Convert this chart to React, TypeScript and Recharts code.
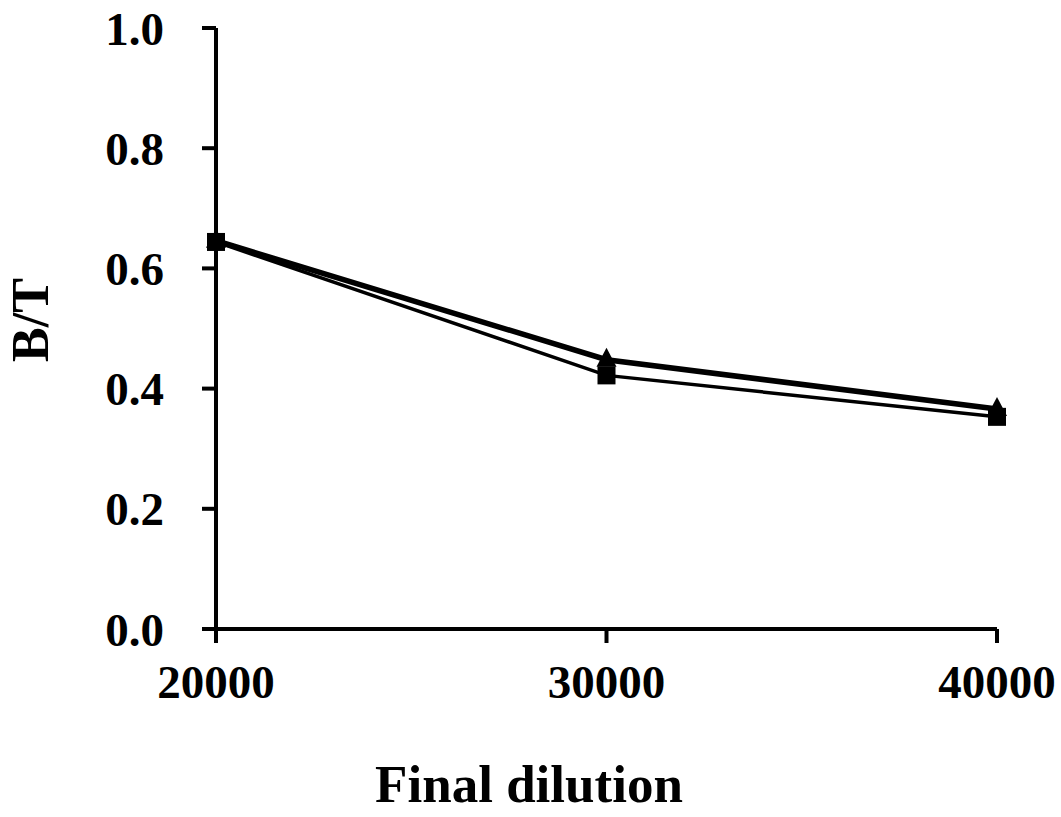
import React from "react";
import { LineChart, Line, XAxis, YAxis, Label } from "recharts";

const dilutions = [20000, 30000, 40000];
const triangleValues = [0.646, 0.448, 0.366];
const squareValues = [0.644, 0.422, 0.353];
const yTicks = [0, 0.2, 0.4, 0.6, 0.8, 1.0];
const xTicks = [20000, 30000, 40000];

const data = dilutions.map((d, i) => ({
  dilution: d,
  tri: triangleValues[i],
  sq: squareValues[i],
}));

const FONT = '"Liberation Serif", "Times New Roman", serif';

function TriangleDot(props: any) {
  const { cx, cy } = props;
  if (cx == null || cy == null) return null;
  return <polygon points={`${cx},${cy - 12} ${cx + 10},${cy + 7} ${cx - 10},${cy + 7}`} fill="#000" />;
}

function SquareDot(props: any) {
  const { cx, cy } = props;
  if (cx == null || cy == null) return null;
  return <rect x={cx - 9} y={cy - 9} width={18} height={18} fill="#000" />;
}

const tickStyle = { fontFamily: FONT, fontWeight: "bold", fontSize: 47, fill: "#000" };

export default function App() {
  return (
    <div style={{ position: "absolute", left: 0, top: 0, background: "#fff" }}>
      <LineChart
        width={1061}
        height={817}
        data={data}
        margin={{ top: 28, right: 64, bottom: 0, left: 0 }}
      >
        <XAxis
          dataKey="dilution"
          type="number"
          domain={[20000, 40000]}
          ticks={xTicks}
          height={188}
          tickSize={14}
          tickMargin={22}
          tick={tickStyle}
          axisLine={{ stroke: "#000", strokeWidth: 4 }}
          tickLine={{ stroke: "#000", strokeWidth: 4 }}
        >
          <Label
            content={() => (
              <text x={529} y={802} textAnchor="middle" fontFamily={FONT} fontWeight="bold" fontSize={53} fill="#000">
                Final dilution
              </text>
            )}
          />
        </XAxis>
        <YAxis
          type="number"
          domain={[0, 1]}
          ticks={yTicks}
          width={216}
          tickSize={14}
          tickMargin={38}
          tick={tickStyle}
          tickFormatter={(v: number) => v.toFixed(1)}
          axisLine={{ stroke: "#000", strokeWidth: 4 }}
          tickLine={{ stroke: "#000", strokeWidth: 4 }}
        >
          <Label
            content={() => (
              <text
                x={48}
                y={320}
                textAnchor="middle"
                transform="rotate(-90 48 320)"
                fontFamily={FONT}
                fontWeight="bold"
                fontSize={52}
                fill="#000"
              >
                B/T
              </text>
            )}
          />
        </YAxis>
        <Line
          dataKey="tri"
          stroke="#000"
          strokeWidth={5.5}
          dot={<TriangleDot />}
          activeDot={false}
          isAnimationActive={false}
        />
        <Line
          dataKey="sq"
          stroke="#000"
          strokeWidth={3.5}
          dot={<SquareDot />}
          activeDot={false}
          isAnimationActive={false}
        />
      </LineChart>
    </div>
  );
}
